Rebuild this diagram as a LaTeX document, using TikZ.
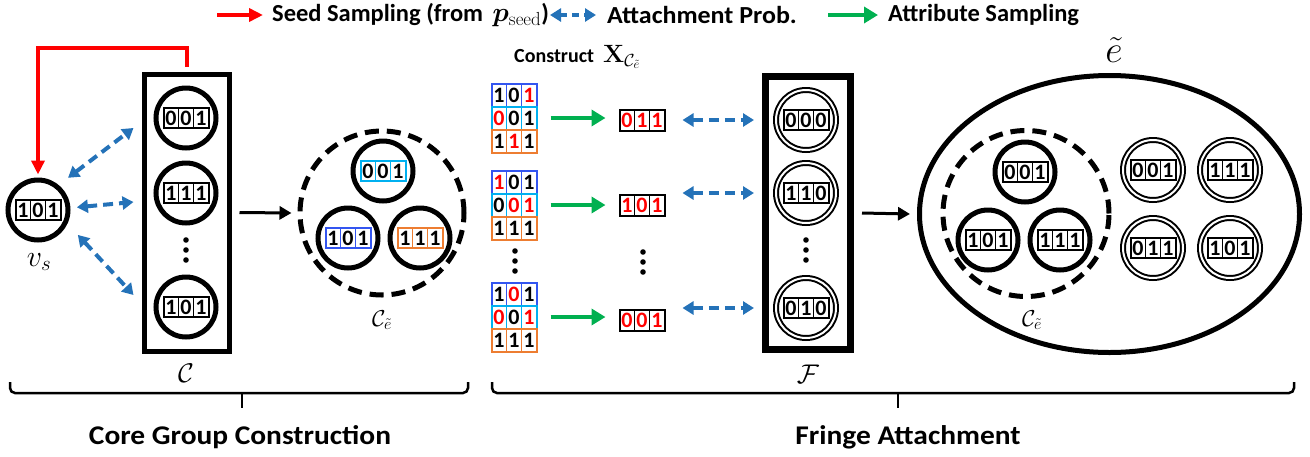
\documentclass[tikz,border=0pt]{standalone}
\usepackage{fix-cm}
\usepackage{graphicx}
\usepackage[no-math]{fontspec}
\setmainfont{Carlito}
\usepackage{bm}
\usetikzlibrary{arrows.meta,shapes.geometric,calc}
\definecolor{redc}{HTML}{FF0000}
\definecolor{bluec}{HTML}{2472B8}
\definecolor{greenc}{HTML}{00B050}
\definecolor{bitblue}{HTML}{3355F0}
\definecolor{bitcyan}{HTML}{00B0F0}
\definecolor{bitorange}{HTML}{ED7D31}
\newcommand\R{\color{redc}}
\newcommand\bits[7]{%
  \node[bitframe, draw=#3, minimum height=#4] (#1) at #2 {};
  \draw[bitsep, draw=#3] ([xshift=-7.5pt]#1.north) -- ([xshift=-7.5pt]#1.south)
        ([xshift=7.5pt]#1.north) -- ([xshift=7.5pt]#1.south);
  \node[digit] at ([xshift=-15pt]#1.center) {#5};
  \node[digit] at (#1.center) {#6};
  \node[digit] at ([xshift=15pt]#1.center) {#7};
}
\begin{document}
\begin{tikzpicture}[x=1pt,y=-1pt,
  bitframe/.style={rectangle, minimum width=45pt, inner sep=0pt, outer sep=0pt, line width=2pt},
  bitsep/.style={line width=1.6pt},
  digit/.style={inner sep=0pt, font=\fontsize{22}{22}\selectfont\bfseries},
  corenode/.style={circle, draw, line width=5pt, minimum size=60pt, inner sep=0pt},
  fringenode/.style={circle, draw, line width=2pt, double, double distance=2pt, minimum size=60pt, inner sep=0pt},
  grpdash/.style={circle, draw, line width=5pt, dash pattern=on 14pt off 8pt, minimum size=164pt, inner sep=0pt},
  blk/.style={-{Triangle[length=12pt,width=13pt]}, line width=3pt},
  grn/.style={-{Triangle[length=14pt,width=16pt]}, line width=4pt, draw=greenc},
  bluedd/.style={{Triangle[length=11pt,width=13pt]}-{Triangle[length=11pt,width=13pt]}, line width=4pt, dash pattern=on 10pt off 6pt, draw=bluec},
  redar/.style={-{Triangle[length=14pt,width=13pt]}, line width=4pt, draw=redc},
  legtext/.style={anchor=west, inner sep=0pt, font=\fontsize{24.5}{24.5}\selectfont\bfseries},
  bracestyle/.style={line width=2.5pt, rounded corners=5pt},
  bigtext/.style={font=\fontsize{27}{27}\selectfont\bfseries}
]
\useasboundingbox (0,0) rectangle (1310,456);

% ---------- legend ----------
\coordinate (la1) at (217,15); \coordinate (lb1) at (263,15);
\draw[redar] (la1) -- (lb1);
\node[legtext] (lt1) at (272,15) {Seed Sampling (from \,{\fontsize{27}{27}\selectfont$\bm{p}_{\mathrm{seed}}$})};
\coordinate (la2) at (550,15); \coordinate (lb2) at (596,15);
\draw[bluedd, dash pattern=on 7pt off 5pt] (la2) -- (lb2);
\node[legtext] (lt2) at (607,15) {\scalebox{1.06}[1]{Attachment Prob.}};
\coordinate (la3) at (828,15); \coordinate (lb3) at (878,15);
\draw[grn] (la3) -- (lb3);
\node[legtext] (lt3) at (888,15) {Attribute Sampling};

% ---------- seed node ----------
\node[corenode] (vs) at (38,210) {};
\bits{vsb}{(vs.center)}{black}{20pt}{1}{0}{1}
\node[font=\fontsize{30}{30}\selectfont] (vsl) at (39,262) {$v_s$};

% ---------- core column ----------
\node[draw, line width=5pt, minimum width=85pt, minimum height=277pt, inner sep=0pt] (C) at (186.5,212.5) {};
\node[corenode] (c1) at (186,118) {};
\bits{c1b}{(c1.center)}{black}{20pt}{0}{0}{1}
\node[corenode] (c2) at (186,193) {};
\bits{c2b}{(c2.center)}{black}{20pt}{1}{1}{1}
\node[corenode] (c3) at (186,307) {};
\bits{c3b}{(c3.center)}{black}{20pt}{1}{0}{1}
\foreach \yy in {240,250,260} \fill (186,\yy) circle (2.8pt);
\node[font=\fontsize{27}{27}\selectfont] (Cl) at (186,373) {$\mathcal{C}$};

\draw[redar] ([yshift=5pt]C.north) -- ++(0,-19) -| ([yshift=3pt]vs.north);
\draw[bluedd] ($(vs.center)+(47:44pt)$) -- ([xshift=-8pt,yshift=-10pt]C.west |- c1);
\draw[bluedd] ($(vs.center)+(4:39pt)$) -- ([xshift=-8pt,yshift=-9pt]C.west |- c2);
\draw[bluedd] ($(vs.center)+(-32:47pt)$) -- ([xshift=-8pt,yshift=12pt]C.west |- c3);

% ---------- core group ----------
\node[grpdash] (ce) at (382,213) {};
\node[corenode] (ce1) at (383,171) {};
\bits{ce1b}{(ce1.center)}{bitcyan}{20pt}{0}{0}{1}
\node[corenode] (ce2) at (348,238) {};
\bits{ce2b}{(ce2.center)}{bitblue}{20pt}{1}{0}{1}
\node[corenode] (ce3) at (420,238) {};
\bits{ce3b}{(ce3.center)}{bitorange}{20pt}{1}{1}{1}
\node[font=\fontsize{23}{23}\selectfont] (cel) at (382,320) {$\mathcal{C}_{\tilde{e}}$};
\draw[blk] ([xshift=8pt]C.east) -- ([xshift=-6pt]ce.west);

% ---------- matrices ----------
\node[anchor=west, inner sep=0pt, font=\fontsize{20}{20}\selectfont\bfseries] (cons) at (514,57)
  {Construct\hspace{9pt}{\fontsize{25}{25}\selectfont$\mathbf{X}_{\mathcal{C}_{\tilde{e}}}$}};

\bits{m1a}{(514,95)}{bitblue}{23pt}{1}{0}{\R1}
\bits{m1b}{(514,118)}{bitcyan}{23pt}{\R0}{0}{1}
\bits{m1c}{(514,141)}{bitorange}{23pt}{1}{\R1}{1}

\bits{m2a}{(514,182)}{bitblue}{23pt}{\R1}{0}{1}
\bits{m2b}{(514,205)}{bitcyan}{23pt}{0}{\R0}{\R1}
\bits{m2c}{(514,228)}{bitorange}{23pt}{1}{1}{1}

\bits{m3a}{(514,294)}{bitblue}{23pt}{1}{\R0}{1}
\bits{m3b}{(514,317)}{bitcyan}{23pt}{\R0}{0}{\R1}
\bits{m3c}{(514,340)}{bitorange}{23pt}{1}{1}{1}

\foreach \yy in {251,261,271} \fill (515,\yy) circle (2.8pt);

\bits{o1}{(642,120)}{black}{21pt}{\R0}{\R1}{\R1}
\bits{o2}{(642,205)}{black}{21pt}{\R1}{\R0}{\R1}
\bits{o3}{(642,320)}{black}{21pt}{\R0}{\R0}{\R1}
\foreach \yy in {252,262,272} \fill (643,\yy) circle (2.8pt);

\draw[grn] ([xshift=14pt]m1b.east) -- ([xshift=-14pt]o1.west |- m1b);
\draw[grn] ([xshift=14pt]m2b.east) -- ([xshift=-14pt]o2.west |- m2b);
\draw[grn] ([xshift=14pt]m3b.east) -- ([xshift=-14pt]o3.west |- m3b);

% ---------- fringe column ----------
\node[draw, line width=7pt, minimum width=85pt, minimum height=273pt, inner sep=0pt] (F) at (808,213) {};
\node[fringenode] (f1) at (806,120) {};
\bits{f1b}{(f1.center)}{black}{20pt}{0}{0}{0}
\node[fringenode] (f2) at (806,193) {};
\bits{f2b}{(f2.center)}{black}{20pt}{1}{1}{0}
\node[fringenode] (f3) at (806,308) {};
\bits{f3b}{(f3.center)}{black}{20pt}{0}{1}{0}
\foreach \yy in {240,250,260} \fill (806,\yy) circle (2.8pt);
\node[font=\fontsize{27}{27}\selectfont] (Fl) at (808,374) {$\mathcal{F}$};

\draw[bluedd] ([xshift=18pt]o1.east |- f1) -- ([xshift=-8pt]F.west |- f1);
\draw[bluedd] ([xshift=18pt]o2.east |- f2) -- ([xshift=-8pt]F.west |- f2);
\draw[bluedd] ([xshift=18pt]o3.east |- f3) -- ([xshift=-8pt]F.west |- f3);

% ---------- hyperedge ----------
\node[ellipse, draw, line width=5pt, minimum width=380pt, minimum height=277pt, inner sep=0pt] (E) at (1109.5,214) {};
\node[font=\fontsize{38}{38}\selectfont] (El) at (1114,50) {$\tilde{e}$};
\draw[blk] ([xshift=8pt]F.east) -- ([xshift=-7pt]E.west);

\node[grpdash, minimum size=166pt] (ed) at (1026,213.5) {};
\node[corenode] (e1) at (1025,172) {};
\bits{e1b}{(e1.center)}{black}{20pt}{0}{0}{1}
\node[corenode] (e2) at (988,240) {};
\bits{e2b}{(e2.center)}{black}{20pt}{1}{0}{1}
\node[corenode] (e3) at (1060,240) {};
\bits{e3b}{(e3.center)}{black}{20pt}{1}{1}{1}
\node[font=\fontsize{23}{23}\selectfont] (edl) at (1032,320) {$\mathcal{C}_{\tilde{e}}$};

\node[fringenode] (d1) at (1153,170) {};
\bits{d1b}{(d1.center)}{black}{20pt}{0}{0}{1}
\node[fringenode] (d2) at (1230,170) {};
\bits{d2b}{(d2.center)}{black}{20pt}{1}{1}{1}
\node[fringenode] (d3) at (1153,248) {};
\bits{d3b}{(d3.center)}{black}{20pt}{0}{1}{1}
\node[fringenode] (d4) at (1230,248) {};
\bits{d4b}{(d4.center)}{black}{20pt}{1}{0}{1}

% ---------- braces ----------
\draw[bracestyle] (10,382) -- (10,393) -- (468,393) -- (468,382);
\draw[line width=2.5pt] (242,393) -- (242,408);
\draw[bracestyle] (492,382) -- (492,393) -- (1294,393) -- (1294,382);
\draw[line width=2.5pt] (898,393) -- (898,408);
\node[bigtext] (t1) at (240,437) {\scalebox{1.09}[1]{Core Group Construction}};
\node[bigtext] (t2) at (908,437) {\scalebox{1.09}[1]{Fringe Attachment}};
\end{tikzpicture}
\end{document}
